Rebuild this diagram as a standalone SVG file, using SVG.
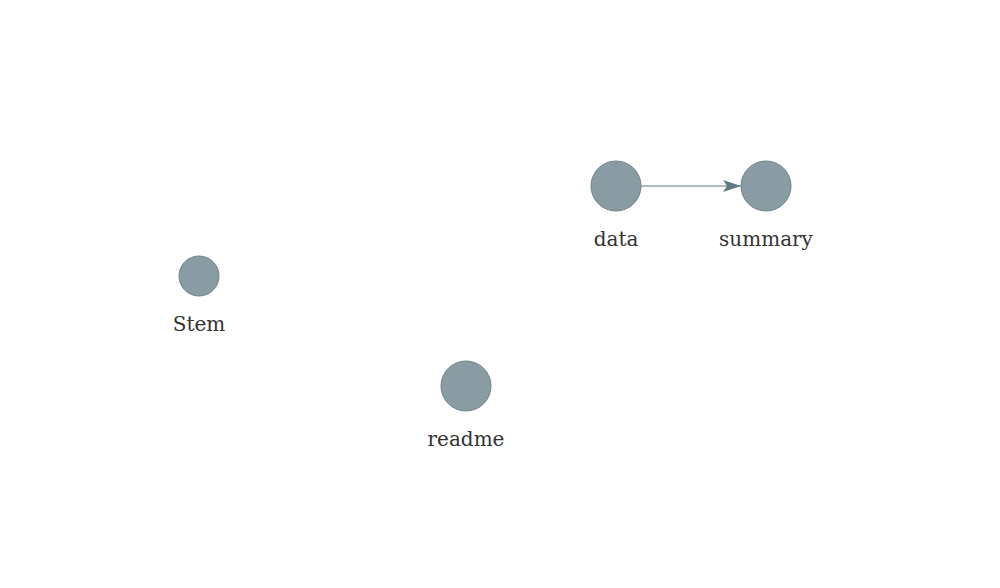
<svg xmlns="http://www.w3.org/2000/svg" width="1000" height="588" viewBox="0 0 1000 588">
<style>
.node circle{fill:#8a9ca3;stroke:#6e8389;stroke-width:1}
.node text{font-family:"DejaVu Serif",serif;font-size:20px;fill:#333;text-anchor:middle}
.edge{stroke:#5f7a80;stroke-width:1.2;fill:none}
</style>
<defs>
<marker id="arr" viewBox="0 0 18 12" refX="18" refY="6" markerWidth="18" markerHeight="12" markerUnits="userSpaceOnUse" orient="auto">
<path d="M0,0 L18,6 L0,12 L4,6 Z" fill="#5f7a80"/>
</marker>
</defs>
<rect width="1000" height="588" fill="#fff"/>
<g id="connectors">
<line class="edge" x1="641" y1="186" x2="741" y2="186" marker-end="url(#arr)"/>
</g>
<g id="data" class="node"><circle cx="616" cy="186" r="25"/><text x="616" y="246">data</text></g>
<g id="summary" class="node"><circle cx="766" cy="186" r="25"/><text x="766" y="246">summary</text></g>
<g id="Stem" class="node"><circle cx="199" cy="276" r="20"/><text x="199" y="331">Stem</text></g>
<g id="readme" class="node"><circle cx="466" cy="386" r="25"/><text x="466" y="446">readme</text></g>
</svg>
